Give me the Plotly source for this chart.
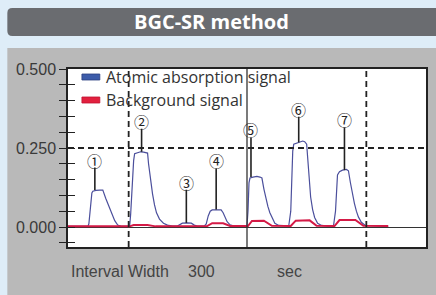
import plotly.graph_objects as go

# ---------------- data ----------------
# time axis (s, relative within displayed window)
t_abs = [0, 20, 21, 22, 23, 24, 25, 28, 32, 35, 38, 41, 44, 47, 50, 53, 60,
         62, 63, 64, 65, 66, 67, 70, 73, 76, 79, 80, 81, 83, 85, 87, 89, 92, 96, 100, 105,
         110, 113, 115, 120, 124, 127, 130,
         137, 139, 141, 143, 145, 150, 154, 156, 158, 160, 163, 167,
         180, 181, 182, 183, 186, 190, 193, 195, 197, 199, 201, 203, 205, 208, 212, 220,
         222, 224, 225, 226, 227, 230, 233, 236, 238, 240, 241, 242, 243, 244, 246, 248, 251, 255, 262,
         267, 269, 270, 271, 273, 276, 280, 282, 284, 286, 288, 290, 292, 295, 299, 322]
atomic_abs = [0.002, 0.002, 0.01, 0.05, 0.09, 0.108, 0.113, 0.116, 0.117, 0.117, 0.09, 0.065, 0.044, 0.02, 0.006, 0.003, 0.002,
              0.003, 0.04, 0.10, 0.16, 0.21, 0.232, 0.236, 0.238, 0.237, 0.236, 0.234, 0.2, 0.15, 0.105, 0.07, 0.045, 0.025, 0.012, 0.006, 0.003,
              0.003, 0.008, 0.012, 0.013, 0.012, 0.006, 0.003,
              0.003, 0.01, 0.035, 0.05, 0.054, 0.055, 0.054, 0.045, 0.03, 0.017, 0.007, 0.003,
              0.004, 0.05, 0.14, 0.155, 0.158, 0.16, 0.158, 0.155, 0.12, 0.09, 0.065, 0.045, 0.03, 0.012, 0.005, 0.003,
              0.004, 0.05, 0.15, 0.24, 0.262, 0.265, 0.268, 0.272, 0.27, 0.262, 0.22, 0.17, 0.13, 0.095, 0.055, 0.03, 0.012, 0.005, 0.003,
              0.004, 0.05, 0.13, 0.165, 0.175, 0.18, 0.182, 0.178, 0.14, 0.105, 0.075, 0.05, 0.032, 0.015, 0.005, 0.002]

t_bg = [0, 22, 25, 35, 42, 62, 66, 80, 88, 112, 118, 125, 132, 140, 145, 156, 163,
        181, 185, 197, 205, 224, 229, 243, 250, 268, 273, 289, 297, 322]
background = [0.002, 0.002, 0.004, 0.004, 0.002, 0.002, 0.006, 0.006, 0.002, 0.002, 0.004, 0.004, 0.002,
              0.003, 0.012, 0.012, 0.003, 0.003, 0.019, 0.02, 0.004, 0.003, 0.02, 0.021, 0.004,
              0.003, 0.022, 0.022, 0.004, 0.003]

# peak labels
peak_labels = ["①", "②", "③", "④", "⑤", "⑥", "⑦"]
label_t = [27, 74, 119, 149, 184, 232, 278]
label_y = [0.212, 0.335, 0.142, 0.209, 0.307, 0.373, 0.339]
peak_top = [0.117, 0.238, 0.013, 0.055, 0.158, 0.268, 0.18]

# reference markers
interval_marks = [61, 300]   # dashed vertical markers
window_split = 180           # solid vertical marker
level_mark = 0.25            # dashed horizontal level

y_ticks = [0, 0.25, 0.5]
y_ticktext = ["0.000", "0.250", "0.500"]
y_minor = [-0.05, 0.05, 0.1, 0.15, 0.2, 0.3, 0.35, 0.4, 0.45]

series_names = ["Atomic absorption signal", "Background signal"]
series_colors = ["#4b4f9c", "#d41a46"]

# ---------------- figure ----------------
W, H = 436, 295
L, R, T, B = 68, 8, 69, 48
pw, ph = W - L - R, H - T - B


def px(x):
    return (x - L) / pw


def py(y):
    return (H - B - y) / ph


fig = go.Figure()
fig.add_trace(go.Scatter(x=t_abs, y=atomic_abs, mode="lines", name=series_names[0],
                         line=dict(color=series_colors[0], width=1.2), showlegend=False))
fig.add_trace(go.Scatter(x=t_bg, y=background, mode="lines", name=series_names[1],
                         line=dict(color=series_colors[1], width=2), showlegend=False))
fig.add_trace(go.Scatter(x=[None], y=[None], yaxis="y2", showlegend=False, hoverinfo="skip"))

shapes = []
# gray panel
shapes.append(dict(type="rect", xref="paper", yref="paper", x0=px(7), x1=px(445), y0=py(48), y1=py(300),
                   fillcolor="#b9b9b9", line=dict(width=0), layer="below"))
# white plot area
shapes.append(dict(type="rect", xref="paper", yref="paper", x0=0, x1=1, y0=0, y1=1,
                   fillcolor="white", line=dict(width=0), layer="below"))
# header bar with rounded corners
x0, x1, yt, yb = px(7), px(445), py(8), py(36)
rx, ry = 5 / pw, 5 / ph
path = (f"M {x0+rx},{yt} L {x1},{yt} L {x1},{yb} L {x0+rx},{yb} "
        f"Q {x0},{yb} {x0},{yb+ry} L {x0},{yt-ry} Q {x0},{yt} {x0+rx},{yt} Z")
shapes.append(dict(type="path", xref="paper", yref="paper", path=path,
                   fillcolor="#6a6c70", line=dict(width=0), layer="below"))

# marker lines
shapes.append(dict(type="line", xref="paper", yref="y", x0=0, x1=1, y0=level_mark, y1=level_mark,
                   line=dict(color="#222", width=1.8, dash="6px,4px")))
for m in interval_marks:
    shapes.append(dict(type="line", xref="x", yref="paper", x0=m, x1=m, y0=0, y1=1,
                       line=dict(color="#222", width=1.8, dash="6px,4px")))
shapes.append(dict(type="line", xref="x", yref="paper", x0=window_split, x1=window_split, y0=0, y1=1,
                   line=dict(color="#333", width=1.3)))

# label leader lines
for tx, ly, top in zip(label_t, label_y, peak_top):
    shapes.append(dict(type="line", xref="x", yref="y", x0=tx, x1=tx, y0=ly - 0.024, y1=top,
                       line=dict(color="#222", width=1.6)))

# legend swatches
shapes.append(dict(type="rect", xref="paper", yref="paper", x0=px(82), x1=px(100), y0=py(80), y1=py(74),
                   fillcolor="#3d5caa", line=dict(color="#2c3f80", width=0.8)))
shapes.append(dict(type="rect", xref="paper", yref="paper", x0=px(82), x1=px(100), y0=py(103), y1=py(97),
                   fillcolor="#e2203e", line=dict(color="#c01030", width=0.8)))

annotations = []
annotations.append(dict(text="BGC-SR method", xref="paper", yref="paper", x=px(212), y=py(22),
                        showarrow=False, xanchor="center", yanchor="middle",
                        font=dict(family="Open Sans", size=20, color="white", weight="bold")))
for name, yy in zip(series_names, [77, 100]):
    annotations.append(dict(text=name, xref="paper", yref="paper", x=px(104), y=py(yy),
                            showarrow=False, xanchor="left", yanchor="middle",
                            font=dict(family="Open Sans", size=16, color="#333")))
for lab, tx, ly in zip(peak_labels, label_t, label_y):
    annotations.append(dict(text=lab, x=tx, y=ly, xref="x", yref="y", showarrow=False,
                            xanchor="center", yanchor="middle",
                            font=dict(family="Noto Sans CJK JP", size=15, color="#222")))
for txt, xx in [("Interval Width", 69), ("300", 187), ("sec", 276)]:
    annotations.append(dict(text=txt, xref="paper", yref="paper", x=px(xx), y=py(271),
                            showarrow=False, xanchor="left", yanchor="middle",
                            font=dict(family="Liberation Sans", size=16, color="#444")))

fig.update_layout(
    width=W, height=H,
    margin=dict(l=L, r=R, t=T, b=B),
    paper_bgcolor="#deedf8",
    plot_bgcolor="white",
    showlegend=False,
    shapes=shapes,
    annotations=annotations,
    xaxis=dict(range=[0, 360], showticklabels=False, ticks="", showgrid=False, zeroline=False,
               showline=True, mirror=True, linecolor="#222", linewidth=1.5),
    yaxis=dict(range=[-0.0633, 0.5], tickvals=y_ticks, ticktext=y_ticktext, ticks="outside",
               ticklen=7, tickwidth=1.4, tickcolor="#222",
               minor=dict(tickvals=y_minor, ticks="outside", ticklen=7, tickwidth=1.4, tickcolor="#222"),
               showgrid=False, zeroline=True, zerolinecolor="#333", zerolinewidth=1.3,
               showline=True, mirror=True, linecolor="#222", linewidth=1.5,
               tickfont=dict(family="Liberation Sans", size=16, color="#3a3a3a")),
    yaxis2=dict(range=[-0.0633, 0.5], overlaying="y", side="left", tickvals=y_ticks, ticks="inside",
                ticklen=7, tickwidth=1.4, tickcolor="#222", showticklabels=False,
                minor=dict(tickvals=y_minor, ticks="inside", ticklen=7, tickwidth=1.4, tickcolor="#222"),
                showgrid=False, zeroline=False, showline=False),
)

fig.write_html("out.html", config={"displayModeBar": False},
               post_script="document.body.style.margin='0';")
